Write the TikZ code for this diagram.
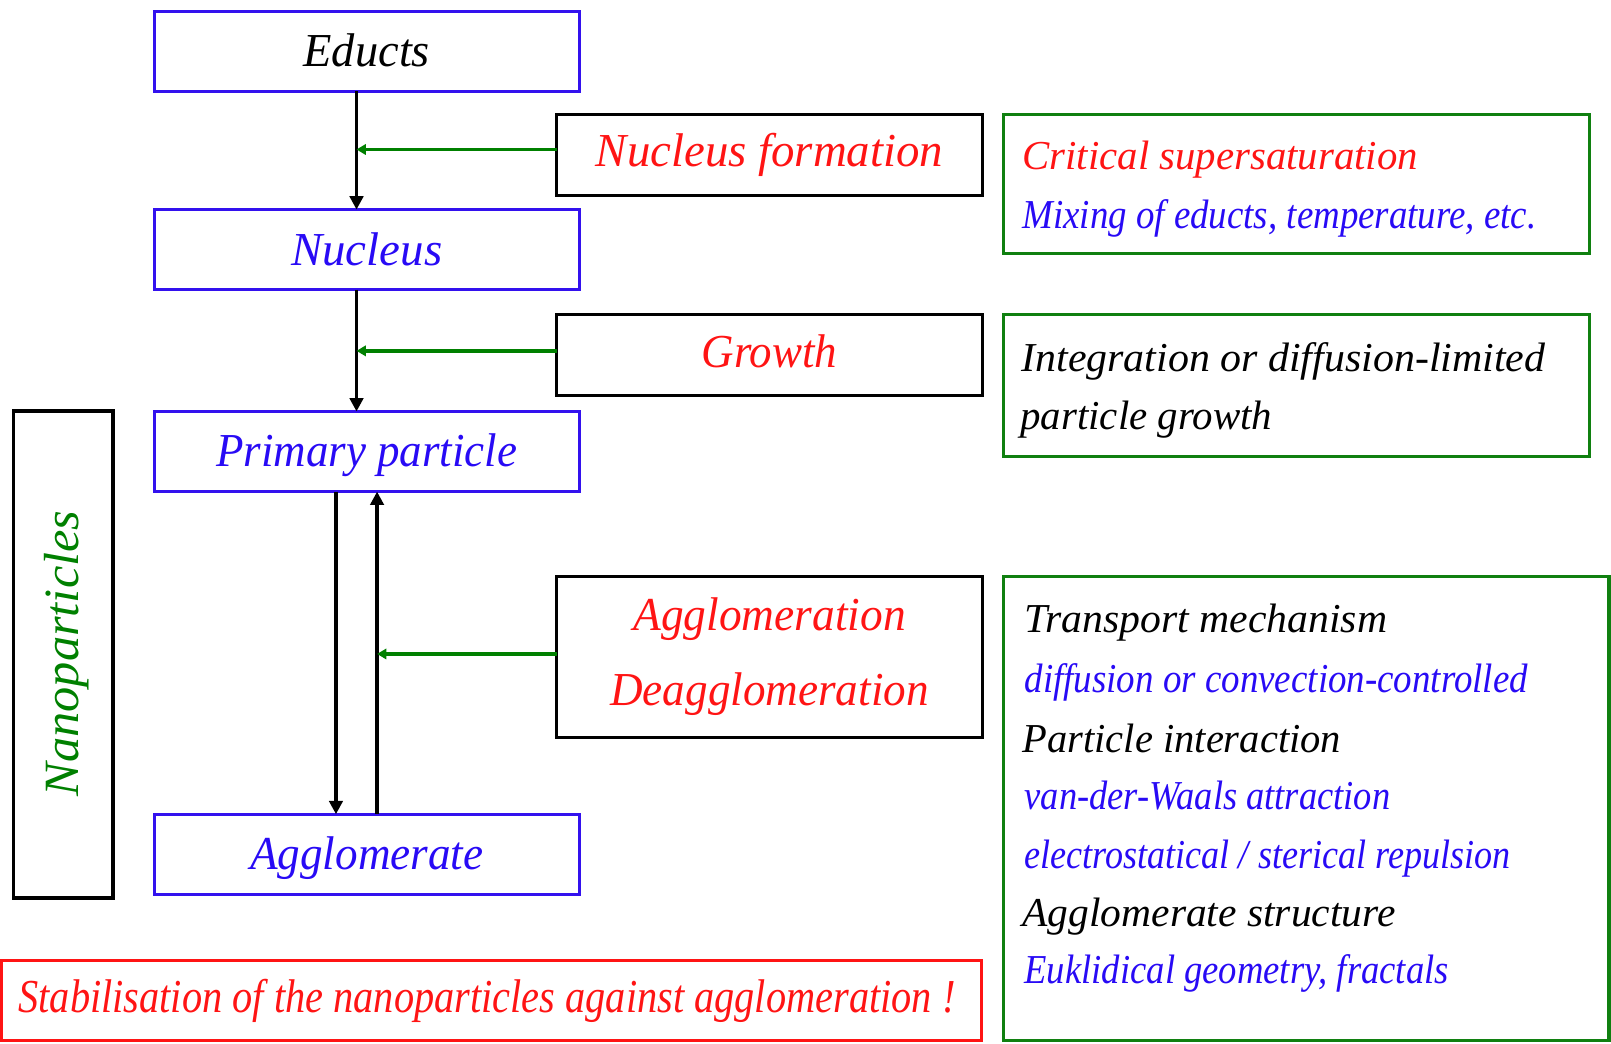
\documentclass[tikz,border=0pt]{standalone}
\usepackage{fontspec}
\usepackage{graphicx}
\setmainfont{Liberation Serif}
\usetikzlibrary{arrows.meta}
\definecolor{bluebox}{RGB}{51,17,238}
\definecolor{bluetext}{RGB}{40,10,245}
\definecolor{redtext}{RGB}{255,20,20}
\definecolor{greenbox}{RGB}{16,128,16}
\definecolor{greentext}{RGB}{0,128,0}
\newcommand\fitw[2]{\resizebox{#1pt}{\height}{#2}}
\tikzset{
  frame/.style={draw, line width=3pt, inner sep=0pt, outer sep=0pt},
  bbox/.style={frame, draw=bluebox, minimum width=414pt, minimum height=78pt,
    font=\fontsize{46}{54}\selectfont\itshape, text height=30pt, text depth=0pt},
  kbox/.style={frame, draw=black, minimum width=414pt, minimum height=79pt},
  gbox/.style={frame, draw=greenbox},
  maintext/.style={font=\fontsize{46}{54}\selectfont\itshape, inner sep=0pt, anchor=base},
  sidetext/.style={font=\fontsize{40}{46}\selectfont\itshape, inner sep=0pt, anchor=base west},
  blk/.style={line width=3.5pt, draw=black, -{Triangle[width=13pt,length=13pt]}},
  grn/.style={line width=3.5pt, draw=greentext, -{Triangle[width=10pt,length=9pt]}},
}
\begin{document}
\begin{tikzpicture}[x=1pt,y=-1pt]
\useasboundingbox (0,0) rectangle (1568,1016);
% left column
\node[bbox, text=black] (educts) at (357,50) {\fitw{123}{Educts}};
\node[bbox, text=bluetext] (nucleus) at (357,243) {\fitw{147}{Nucleus}};
\node[bbox, text=bluetext] (primary) at (357,439.5) {\fitw{293}{Primary particle}};
\node[bbox, text=bluetext] (agglo) at (357,831.5) {\fitw{227}{Agglomerate}};
% nanoparticles box
\node[frame, draw=black, minimum width=97pt, minimum height=474pt] (nano) at (61.5,637) {};
\node[rotate=90, font=\fontsize{48}{56}\selectfont\itshape, text=greentext, inner sep=0pt,
  text height=32pt, text depth=0pt] (nanotxt) at (60,636) {\fitw{278}{Nanoparticles}};
% process boxes
\node[kbox] (nform) at (749,150.5) {};
\node[maintext, text=redtext] (nformtxt) at (749,162) {\fitw{338}{Nucleus formation}};
\node[kbox] (growth) at (749,345.5) {};
\node[maintext, text=redtext] (growthtxt) at (749,358) {\fitw{132}{Growth}};
\node[kbox, minimum height=157pt] (aggl) at (749,639.5) {};
\node[maintext, text=redtext] (aggltxt) at (749,614) {\fitw{265}{Agglomeration}};
\node[maintext, text=redtext] (deaggltxt) at (749,687) {\fitw{310}{Deagglomeration}};
% green boxes
\node[gbox, minimum width=570pt, minimum height=136pt] (crit) at (1262,179) {};
\node[sidetext, text=redtext] (crit1) at (995,165) {\fitw{385}{Critical supersaturation}};
\node[sidetext, text=bluetext] (crit2) at (995,222) {\fitw{500}{Mixing of educts, temperature, etc.}};
\node[gbox, minimum width=570pt, minimum height=138pt] (integ) at (1262,375) {};
\node[sidetext, text=black] (integ1) at (994,362) {\fitw{510}{Integration or diffusion-limited}};
\node[sidetext, text=black] (integ2) at (993,418) {\fitw{245}{particle growth}};
\node[gbox, minimum width=589pt, minimum height=452pt] (trans) at (1271.5,787) {};
\node[sidetext, text=black] (t1) at (997,616) {\fitw{353}{Transport mechanism}};
\node[sidetext, text=bluetext] (t2) at (997,674) {\fitw{490}{diffusion or convection-controlled}};
\node[sidetext, text=black] (t3) at (995,732) {\fitw{310}{Particle interaction}};
\node[sidetext, text=bluetext] (t4) at (997,788) {\fitw{356}{van-der-Waals attraction}};
\node[sidetext, text=bluetext] (t5) at (997,845) {\fitw{473}{electrostatical / sterical repulsion}};
\node[sidetext, text=black] (t6) at (995,902) {\fitw{363}{Agglomerate structure}};
\node[sidetext, text=bluetext] (t7) at (997,957) {\fitw{413}{Euklidical geometry, fractals}};
% red box
\node[frame, draw=redtext, minimum width=954pt, minimum height=78pt] (stab) at (478.5,974) {};
\node[maintext, text=redtext] (stabtxt) at (474,985) {\fitw{912}{Stabilisation of the nanoparticles against agglomeration !}};
% connectors
\coordinate (l1) at ([xshift=-10pt]educts.south);
\coordinate (l2) at ([xshift=-10pt]nucleus.south);
\coordinate (ld) at ([xshift=-30pt]primary.south);
\coordinate (lu) at ([xshift=10pt]agglo.north);
\draw[blk] (l1) -- ([xshift=-10pt]nucleus.north);
\draw[blk] (l2) -- ([xshift=-10pt]primary.north);
\draw[blk] (ld) -- ([xshift=-30pt]agglo.north);
\draw[blk] (lu) -- ([xshift=10pt]primary.south);
\coordinate (g1) at ([yshift=5pt]nform.west);
\coordinate (g2) at ([yshift=4pt]growth.west);
\coordinate (g3) at ([yshift=3pt]aggl.west);
\draw[grn] (g1) -- (g1 -| l1);
\draw[grn] (g2) -- (g2 -| l2);
\draw[grn] (g3) -- (g3 -| lu);
\end{tikzpicture}
\end{document}
